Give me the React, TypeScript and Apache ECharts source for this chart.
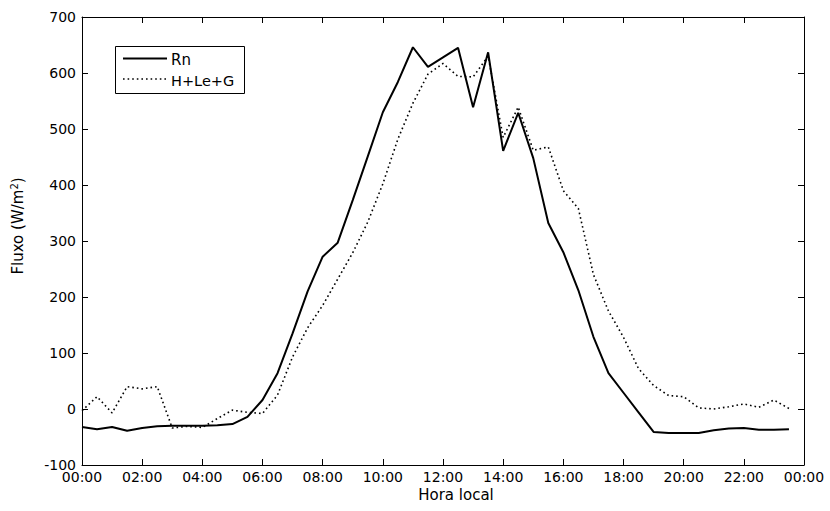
import React, { useEffect, useRef } from "react";
import * as echarts from "echarts";

const times = [
  "00:00","00:30","01:00","01:30","02:00","02:30","03:00","03:30","04:00","04:30",
  "05:00","05:30","06:00","06:30","07:00","07:30","08:00","08:30","09:00","09:30",
  "10:00","10:30","11:00","11:30","12:00","12:30","13:00","13:30","14:00","14:30",
  "15:00","15:30","16:00","16:30","17:00","17:30","18:00","18:30","19:00","19:30",
  "20:00","20:30","21:00","21:30","22:00","22:30","23:00","23:30",
];

const rn = [
  -32, -36, -32, -39, -34, -31, -30, -30, -30, -29,
  -27, -14, 16, 64, 135, 210, 272, 297, 373, 451,
  530, 584, 646, 611, 628, 645, 539, 637, 461, 529,
  448, 332, 280, 212, 129, 64, 29, -6, -41, -43,
  -43, -43, -38, -35, -34, -37, -37, -36,
];

const hleg = [
  -3, 22, -7, 40, 36, 40, -34, -31, -33, -17,
  -2, -6, -8, 25, 93, 145, 185, 232, 279, 334,
  402, 482, 546, 598, 617, 594, 593, 630, 485, 539,
  462, 468, 390, 358, 240, 175, 128, 72, 42, 24,
  22, 2, 0, 4, 9, 3, 16, 1,
];

const seriesNames = ["Rn", "H+Le+G"];
const xTicks = ["00:00","02:00","04:00","06:00","08:00","10:00","12:00","14:00","16:00","18:00","20:00","22:00","00:00"];
const xTitle = "Hora local";

const toHours = (t: string) => {
  const [h, m] = t.split(":").map(Number);
  return h + m / 60;
};

export default function App() {
  const ref = useRef<HTMLDivElement>(null);
  useEffect(() => {
    document.body.style.margin = "0";
    if (!ref.current) return;
    const chart = echarts.init(ref.current, null, { renderer: "svg" });
    const font = "DejaVu Sans, sans-serif";
    const axisLine = { show: true, onZero: false, lineStyle: { color: "#000", width: 1 } };
    const tick = { show: true, inside: true, length: 6, lineStyle: { color: "#000" } };
    const dotted = [1.6, 3];
    chart.setOption({
      animation: false,
      backgroundColor: "#fff",
      grid: { left: 82, right: 26, top: 17, bottom: 46, containLabel: false },
      graphic: [
        {
          type: "rect",
          shape: { x: 115.5, y: 46.5, width: 129, height: 47 },
          style: { fill: "#fff", stroke: "#000", lineWidth: 1 },
          z: 100,
        },
        {
          type: "line",
          shape: { x1: 123, y1: 58.5, x2: 167, y2: 58.5 },
          style: { stroke: "#000", lineWidth: 2 },
          z: 101,
        },
        {
          type: "line",
          shape: { x1: 123, y1: 79, x2: 167, y2: 79 },
          style: { stroke: "#000", lineWidth: 1.6, lineDash: dotted },
          z: 101,
        },
        {
          type: "text",
          x: 171,
          y: 59.5,
          style: { text: seriesNames[0], font: `15px ${font}`, fill: "#000", verticalAlign: "middle" },
          z: 101,
        },
        {
          type: "text",
          x: 171,
          y: 81,
          style: { text: seriesNames[1], font: `14.5px ${font}`, fill: "#000", verticalAlign: "middle" },
          z: 101,
        },
        {
          type: "text",
          x: 456,
          y: 495,
          style: { text: xTitle, font: `15px ${font}`, fill: "#000", align: "center", verticalAlign: "middle" },
        },
        {
          type: "text",
          x: 18,
          y: 226,
          rotation: Math.PI / 2,
          style: {
            text: "Fluxo (W/m{sup|2})",
            font: `15px ${font}`,
            fill: "#000",
            align: "center",
            verticalAlign: "middle",
            rich: { sup: { font: `10px ${font}`, fill: "#000", padding: [0, 0, 8, 0] } },
          },
        },
      ],
      xAxis: [
        {
          type: "value",
          min: 0,
          max: 24,
          interval: 2,
          axisLine,
          axisTick: tick,
          splitLine: { show: false },
          axisLabel: {
            fontFamily: font,
            fontSize: 14,
            color: "#000",
            margin: 5,
            formatter: (v: number) => xTicks[Math.round(v / 2)] ?? "",
          },
        },
        {
          type: "value",
          position: "top",
          min: 0,
          max: 24,
          interval: 2,
          axisLine,
          axisTick: tick,
          axisLabel: { show: false },
          splitLine: { show: false },
        },
      ],
      yAxis: [
        {
          type: "value",
          min: -100,
          max: 700,
          interval: 100,
          axisLine,
          axisTick: tick,
          splitLine: { show: false },
          axisLabel: { fontFamily: font, fontSize: 14, color: "#000", margin: 6 },
        },
        {
          type: "value",
          position: "right",
          min: -100,
          max: 700,
          interval: 100,
          axisLine,
          axisTick: tick,
          axisLabel: { show: false },
          splitLine: { show: false },
        },
      ],
      series: [
        {
          name: seriesNames[0],
          type: "line",
          symbol: "none",
          data: times.map((t, i) => [toHours(t), rn[i]]),
          lineStyle: { color: "#000", width: 2 },
          itemStyle: { color: "#000" },
        },
        {
          name: seriesNames[1],
          type: "line",
          symbol: "none",
          data: times.map((t, i) => [toHours(t), hleg[i]]),
          lineStyle: { color: "#000", width: 1.6, type: dotted },
          itemStyle: { color: "#000" },
        },
      ],
    });
    return () => chart.dispose();
  }, []);
  return <div ref={ref} style={{ width: 830, height: 511 }} />;
}
